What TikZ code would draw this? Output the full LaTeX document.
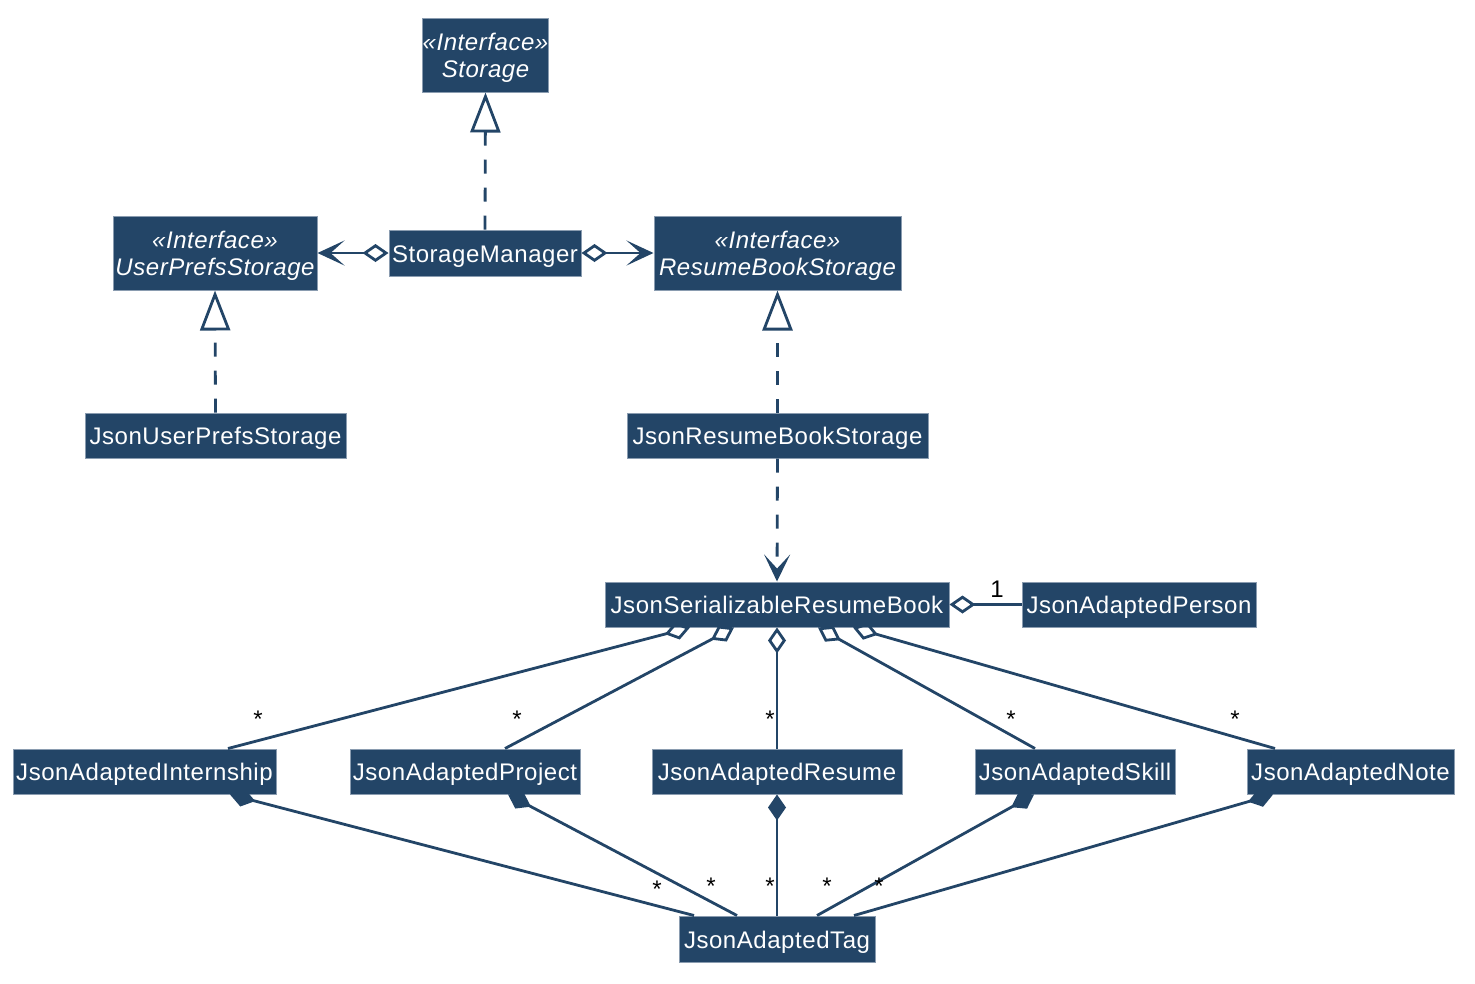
\documentclass[tikz,border=0pt]{standalone}
\usepackage{fontspec}
\setmainfont{Liberation Sans}[LetterSpace=2.3]
\usetikzlibrary{arrows.meta}
\definecolor{boxc}{HTML}{234567}
\definecolor{bordc}{HTML}{8A9CB0}
\tikzset{
  cls/.style={draw=bordc, line width=1pt, fill=boxc, text=white, inner sep=0pt,
    font=\fontsize{24}{27}\selectfont, align=center, text height=18pt, text depth=0pt},
  iface/.style={cls, text height=44pt, text depth=0pt},
  conn/.style={draw=boxc, line width=2.8pt},
  realz/.style={conn, dash pattern=on 14pt off 14pt, -{Triangle[open, length=40pt, width=30pt]}},
  depend/.style={conn, dash pattern=on 14pt off 14pt, -{Stealth[length=27pt, width=26pt, inset=14pt]}},
  aggarrow/.style={conn, {Diamond[open, length=26pt, width=18pt]}-{Stealth[length=27pt, width=25pt, inset=14pt]}},
  aggline/.style={conn, {Diamond[open, length=26pt, width=18pt]}-},
  compline/.style={conn, {Diamond[length=26pt, width=18pt]}-},
  lbl/.style={text=black, inner sep=0pt, font=\fontsize{24}{27}\selectfont, anchor=base}
}
\newcommand{\ifacetext}[1]{\begin{tabular}[b]{@{}c@{}}\itshape «Interface»\\\itshape #1\end{tabular}}
\begin{document}
\begin{tikzpicture}[x=1pt, y=-1pt]
\useasboundingbox (0,0) rectangle (1475,983);
% classes
\node[iface, minimum width=125pt, minimum height=74pt] (storage) at (485.5,55) {\ifacetext{Storage}};
\node[iface, minimum width=204pt, minimum height=74pt] (ups) at (215,253) {\ifacetext{UserPrefsStorage}};
\node[cls, minimum width=192pt, minimum height=46pt] (sm) at (485,253) {StorageManager};
\node[iface, minimum width=247pt, minimum height=74pt] (rbs) at (777.5,253) {\ifacetext{ResumeBookStorage}};
\node[cls, minimum width=261pt, minimum height=45pt] (jups) at (215.5,435.5) {JsonUserPrefsStorage};
\node[cls, minimum width=301pt, minimum height=45pt] (jrbs) at (777.5,435.5) {JsonResumeBookStorage};
\node[cls, minimum width=344pt, minimum height=45pt] (jsrb) at (777,604.5) {JsonSerializableResumeBook};
\node[cls, minimum width=234pt, minimum height=45pt] (jap) at (1139,604.5) {JsonAdaptedPerson};
\node[cls, minimum width=263pt, minimum height=45pt] (intern) at (144.5,771.5) {JsonAdaptedInternship};
\node[cls, minimum width=230pt, minimum height=45pt] (proj) at (465,771.5) {JsonAdaptedProject};
\node[cls, minimum width=250pt, minimum height=45pt] (resume) at (777,771.5) {JsonAdaptedResume};
\node[cls, minimum width=200pt, minimum height=45pt] (skill) at (1075,771.5) {JsonAdaptedSkill};
\node[cls, minimum width=207pt, minimum height=45pt] (note) at (1350.5,771.5) {JsonAdaptedNote};
\node[cls, minimum width=196pt, minimum height=46pt] (tag) at (777,939) {JsonAdaptedTag};
% realizations
\draw[realz] (sm.north) -- (storage.south);
\draw[realz] (jups.north) -- (ups.south);
\draw[realz] (jrbs.north) -- (rbs.south);
% aggregations with navigation
\draw[aggarrow] (sm.west) -- (ups.east);
\draw[aggarrow] (sm.east) -- (rbs.west);
% dependency
\draw[depend] (jrbs.south) -- (jsrb.north);
% person
\draw[aggline] (jsrb.east) -- (jap.west);
\node[lbl] (one) at (997,597) {1};
% aggregations from resume book
\draw[aggline] ([xshift=-87pt]jsrb.south) -- ([xshift=83.5pt]intern.north);
\draw[aggline] ([xshift=-43pt]jsrb.south) -- ([xshift=40pt]proj.north);
\draw[aggline] (jsrb.south) -- (resume.north);
\draw[aggline] ([xshift=41pt]jsrb.south) -- ([xshift=-40pt]skill.north);
\draw[aggline] ([xshift=76pt]jsrb.south) -- ([xshift=-75.5pt]note.north);
\node[lbl] (s1) at (258,727) {*};
\node[lbl] (s2) at (517,727) {*};
\node[lbl] (s3) at (770,727) {*};
\node[lbl] (s4) at (1011,727) {*};
\node[lbl] (s5) at (1235,727) {*};
% compositions to tag
\draw[compline] ([xshift=85.5pt]intern.south) -- ([xshift=-83pt]tag.north);
\draw[compline] ([xshift=43pt]proj.south) -- ([xshift=-40pt]tag.north);
\draw[compline] (resume.south) -- (tag.north);
\draw[compline] ([xshift=-41pt]skill.south) -- ([xshift=40pt]tag.north);
\draw[compline] ([xshift=-77.5pt]note.south) -- ([xshift=77pt]tag.north);
\node[lbl] (t1) at (657,897) {*};
\node[lbl] (t2) at (711,894) {*};
\node[lbl] (t3) at (770,894) {*};
\node[lbl] (t4) at (827,894) {*};
\node[lbl] (t5) at (879,894) {*};
\end{tikzpicture}
\end{document}
